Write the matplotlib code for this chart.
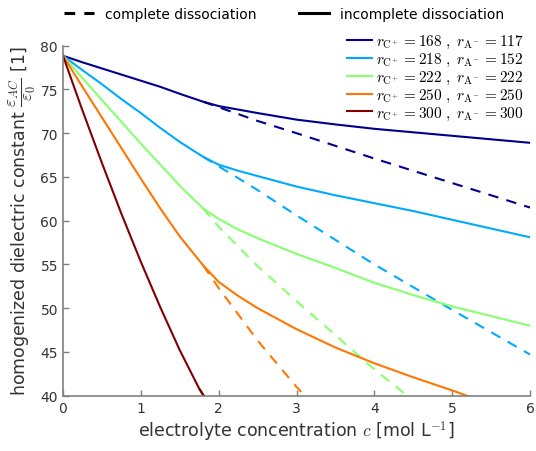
import matplotlib
matplotlib.use("Agg")
import matplotlib.pyplot as plt
from matplotlib.lines import Line2D

plt.rcParams["mathtext.fontset"] = "cm"
plt.rcParams["font.family"] = ["DejaVu Sans"]

# radii of cation / anion (legend labels)
r_cat = [168, 218, 222, 250, 300]
r_an = [117, 152, 222, 250, 300]
colors = ["#00008f", "#00aaff", "#88ff70", "#ff7700", "#800000"]

# shared part (both models agree at low concentration)
c_low = [
    [0, 0.25, 0.5, 0.75, 1.0, 1.25, 1.5, 1.8],
    [0, 0.25, 0.5, 0.75, 1.0, 1.25, 1.5, 1.8],
    [0, 0.25, 0.5, 0.75, 1.0, 1.25, 1.5, 1.8],
    [0, 0.25, 0.5, 0.75, 1.0, 1.25, 1.5, 1.8],
    [0, 0.25, 0.5, 0.75, 1.0, 1.25, 1.5, 1.75],
]
eps_low = [
    [78.85, 78.1, 77.4, 76.7, 76.0, 75.3, 74.5, 73.6],
    [78.85, 77.2, 75.6, 73.9, 72.3, 70.6, 69.0, 67.3],
    [78.85, 76.3, 73.8, 71.3, 68.8, 66.4, 64.0, 61.4],
    [78.85, 75.3, 71.8, 68.3, 64.8, 61.4, 58.2, 54.9],
    [78.85, 72.6, 66.6, 60.8, 55.3, 50.1, 45.2, 40.8],
]

# incomplete dissociation (solid)
c_inc = [
    [2.0, 2.5, 3.0, 3.5, 4.0, 4.5, 5.0, 5.5, 6.0],
    [2.0, 2.25, 2.5, 3.0, 3.5, 4.0, 4.5, 5.0, 5.5, 6.0],
    [2.0, 2.25, 2.5, 3.0, 3.5, 4.0, 4.5, 5.0, 5.5, 6.0],
    [2.0, 2.25, 2.5, 3.0, 3.5, 4.0, 4.5, 5.0, 5.25],
    [1.85],
]
eps_inc = [
    [73.1, 72.3, 71.55, 71.0, 70.5, 70.1, 69.7, 69.3, 68.9],
    [66.4, 65.7, 65.1, 63.9, 62.9, 62.0, 61.1, 60.1, 59.1, 58.1],
    [60.2, 59.0, 58.0, 56.2, 54.6, 52.9, 51.5, 50.2, 49.1, 48.0],
    [53.0, 51.4, 50.0, 47.6, 45.5, 43.7, 42.1, 40.6, 39.8],
    [39.4],
]

# complete dissociation (dashed)
c_comp = [
    [2.5, 3.0, 4.0, 5.0, 6.0],
    [2.5, 3.0, 4.0, 5.0, 6.0],
    [2.0, 2.5, 3.0, 3.5, 4.0, 4.45],
    [2.0, 2.5, 3.0, 3.15],
    [1.85],
]
eps_comp = [
    [71.4, 70.0, 67.1, 64.3, 61.5],
    [63.5, 60.6, 55.0, 49.8, 44.7],
    [59.3, 54.8, 50.8, 46.9, 43.0, 39.8],
    [52.3, 46.3, 41.0, 39.6],
    [39.4],
]

fig = plt.figure(figsize=(5.36, 4.52), dpi=100)
ax = fig.add_axes([0.1175, 0.1224, 0.8715, 0.7743])

for i in range(5):
    xs_d = [c_low[i][-1]] + c_comp[i]
    ys_d = [eps_low[i][-1]] + eps_comp[i]
    ax.plot(xs_d, ys_d, color=colors[i], lw=1.5, dashes=(5, 4))
    ax.plot(c_low[i] + c_inc[i], eps_low[i] + eps_inc[i], color=colors[i], lw=1.5)

ax.set_xlim(0, 6)
ax.set_ylim(40, 80)
ax.set_xticks(range(7))
ax.set_yticks(range(40, 81, 5))

for s in ["top", "right"]:
    ax.spines[s].set_visible(False)
for s in ["left", "bottom"]:
    ax.spines[s].set_color("#808080")
    ax.spines[s].set_linewidth(1.2)
ax.tick_params(direction="in", length=4, width=1, color="#808080",
               labelcolor="#333333", labelsize=10)

ax.set_xlabel(r"electrolyte concentration $c$ [mol L$^{-1}$]", fontsize=12.5,
              color="#333333", labelpad=3)
ax.set_ylabel(r"homogenized dielectric constant $\dfrac{\varepsilon_{AC}}{\varepsilon_0}$ [1]",
              fontsize=12.5, color="#333333", labelpad=2)

handles = [Line2D([], [], color=col, lw=1.5) for col in colors]
labels = [r"$r_{\mathrm{C}^{+}}\,=%d\ ,\ r_{\mathrm{A}^{-}}\,=%d$" % (a, b)
          for a, b in zip(r_cat, r_an)]
fig.legend(handles, labels, loc="upper right", bbox_to_anchor=(0.995, 0.945),
           frameon=False, fontsize=11, handlelength=1.6, handletextpad=0.3,
           labelspacing=0.05, borderpad=0.1)

top_handles = [Line2D([], [], color="black", lw=2.2, dashes=(3.5, 3)),
               Line2D([], [], color="black", lw=2.2)]
fig.legend(top_handles, ["complete dissociation", "incomplete dissociation"],
           loc="upper center", bbox_to_anchor=(0.53, 1.01), ncol=2,
           frameon=False, fontsize=10, handlelength=2.2, columnspacing=3.0)

fig.savefig("out.png", dpi=100)
